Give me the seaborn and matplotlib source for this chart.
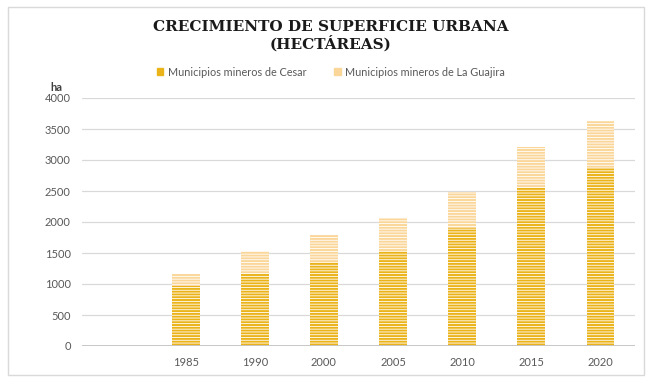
import matplotlib
matplotlib.use("Agg")
import matplotlib.pyplot as plt
import seaborn as sns
import pandas as pd
from matplotlib.patches import Rectangle

# --- datos (ha) ---
years = ["1985", "1990", "2000", "2005", "2010", "2015", "2020"]
cesar = [965, 1160, 1350, 1535, 1910, 2545, 2870]
guajira = [195, 380, 435, 525, 570, 670, 760]
series_names = ["Municipios mineros de Cesar", "Municipios mineros de La Guajira"]

COL_CESAR = "#EBB31A"
COL_GUAJ = "#FAD699"

sns.set_style("white")
plt.rcParams["font.family"] = ["Lato", "DejaVu Sans"]
plt.rcParams["hatch.color"] = "white"
plt.rcParams["hatch.linewidth"] = 0.6

df = pd.DataFrame({"year": years, "cesar": cesar, "guajira": guajira})
df["total"] = df["cesar"] + df["guajira"]

fig = plt.figure(figsize=(6.5, 3.83), dpi=100)
ax = fig.add_axes([82 / 650, 1 - 346 / 383, 553 / 650, 248 / 383])

# barras apiladas: total (La Guajira) detrás, Cesar encima
sns.barplot(data=df, x="year", y="total", color=COL_GUAJ, width=0.4,
            saturation=1, ax=ax)
sns.barplot(data=df, x="year", y="cesar", color=COL_CESAR, width=0.4,
            saturation=1, ax=ax)
for p in ax.patches:
    p.set_hatch("------")
    p.set_linewidth(0)

ax.set_xlim(-1.5, 6.5)
ax.set_ylim(0, 4000)
ax.set_yticks(range(0, 4001, 500))
ax.yaxis.grid(True, color="#D9D9D9", linewidth=0.9)
ax.set_axisbelow(True)
ax.axhline(0, color="#BFBFBF", linewidth=1.2, zorder=3)
for s in ax.spines.values():
    s.set_visible(False)
ax.tick_params(axis="both", length=0, labelsize=8, colors="#595959", pad=8)
ax.set_xlabel("")
ax.set_ylabel("")
ax.text(-0.035, 1.02, "ha", transform=ax.transAxes, fontsize=8,
        fontweight="bold", color="#404040", ha="right", va="bottom")

# leyenda
cx = 331 / 650
handles = [Rectangle((0, 0), 1, 1, color=COL_CESAR), Rectangle((0, 0), 1, 1, color=COL_GUAJ)]
fig.legend(handles, series_names, loc="center", bbox_to_anchor=(cx, 1 - 72 / 383),
           ncol=2, frameon=False, fontsize=7.8, handlelength=0.6, handleheight=0.6,
           columnspacing=2.6, handletextpad=0.4, labelcolor="#595959")

fig.text(cx, 1 - 36 / 383, "CRECIMIENTO DE SUPERFICIE URBANA\n(HECTÁREAS)",
         ha="center", va="center", fontsize=11, fontweight="bold",
         family=["DejaVu Serif"], linespacing=1.05, color="#1a1a1a")

fig.patches.append(Rectangle((8 / 650, 1 - 375 / 383), 636 / 650, 368 / 383,
                             transform=fig.transFigure, fill=False,
                             edgecolor="#D9D9D9", linewidth=1))

fig.savefig("out.png", dpi=100)
